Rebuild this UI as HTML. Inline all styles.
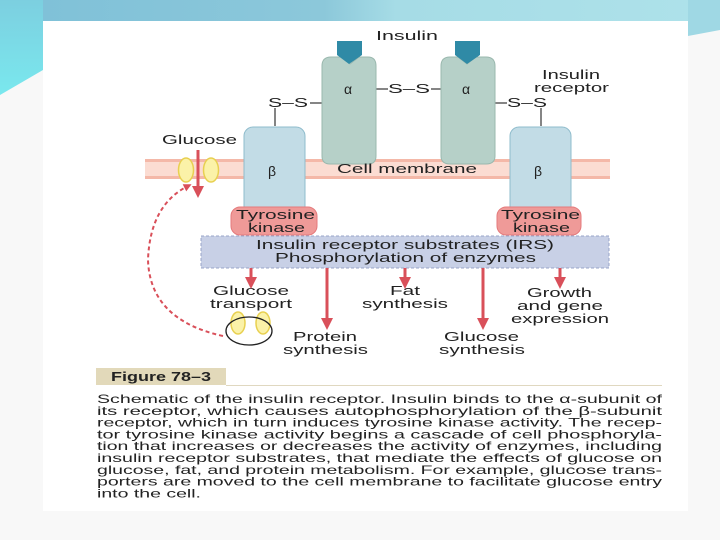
<!DOCTYPE html>
<html><head><meta charset="utf-8"><style>
html,body{margin:0;padding:0;background:#fff;}
svg{display:block}
text{font-family:"Liberation Sans",sans-serif;fill:#222;}
</style></head><body>
<svg width="720" height="540" viewBox="0 0 720 540" xmlns="http://www.w3.org/2000/svg">
<defs>
<linearGradient id="tb" x1="0" x2="1" y1="0" y2="0">
<stop offset="0" stop-color="#7ec0d8"/><stop offset="0.45" stop-color="#8cc8da"/><stop offset="0.55" stop-color="#a6dce6"/><stop offset="1" stop-color="#aee2ea"/></linearGradient>
<linearGradient id="lb" x1="0" x2="0" y1="0" y2="1">
<stop offset="0" stop-color="#7ccfe0"/><stop offset="1" stop-color="#7ae8ee"/></linearGradient>
<marker id="ah" viewBox="0 0 10 10" refX="5" refY="5" markerWidth="4" markerHeight="4" orient="auto"><path d="M0,0 L10,5 L0,10 z" fill="#d9505a"/></marker>
</defs>
<rect width="720" height="540" fill="#f8f8f8"/>
<rect x="0" y="0" width="720" height="22" fill="url(#tb)"/>
<polygon points="0,0 43,0 43,70 0,95" fill="url(#lb)"/>
<polygon points="688,0 720,0 720,30 688,36" fill="#9fd8e4"/>
<rect x="43" y="21" width="645" height="490" fill="#fff"/>

<rect x="145" y="159" width="465" height="20" fill="#f4b8a8"/>
<rect x="145" y="162" width="465" height="14" fill="#fbdcd2"/>

<g stroke="#333" stroke-width="1.2">
<line x1="275" y1="108" x2="275" y2="126"/>
<line x1="310" y1="103" x2="322" y2="103"/>
<line x1="376" y1="89" x2="388" y2="89"/>
<line x1="431" y1="89" x2="441" y2="89"/>
<line x1="495" y1="103" x2="507" y2="103"/>
<line x1="541" y1="108" x2="541" y2="126"/>
</g>

<path d="M322,66 Q322,57 331,57 L341,57 L350,64 L359,57 L368,57 Q376,57 376,66 L376,156 Q376,164 368,164 L330,164 Q322,164 322,156 Z" fill="#b6d0c8" stroke="#9ab8ae"/>
<path d="M441,66 Q441,57 450,57 L458,57 L467,64 L476,57 L486,57 Q495,57 495,66 L495,156 Q495,164 486,164 L450,164 Q441,164 441,156 Z" fill="#b6d0c8" stroke="#9ab8ae"/>
<polygon points="337,41 362,41 362,55 349,64 337,55" fill="#2f8aa6"/>
<polygon points="455,41 480,41 480,55 467,64 455,55" fill="#2f8aa6"/>
<text x="344" y="94" font-size="14">α</text>
<text x="462" y="94" font-size="14">α</text>

<rect x="244" y="127" width="61" height="98" rx="9" fill="#c2dce6" stroke="#8fbccc"/>
<rect x="510" y="127" width="61" height="98" rx="9" fill="#c2dce6" stroke="#8fbccc"/>
<text x="268" y="176" font-size="14">β</text>
<text x="534" y="176" font-size="14">β</text>

<rect x="231" y="207" width="86" height="28" rx="9" fill="#ef9a98" stroke="#e47a7c"/>
<rect x="497" y="207" width="84" height="28" rx="9" fill="#ef9a98" stroke="#e47a7c"/>

<rect x="201" y="236" width="408" height="32" fill="#c8d0e6" stroke="#98a4c8" stroke-dasharray="3,2"/>

<g font-size="12.5">
<text x="268" y="107" textLength="40" lengthAdjust="spacingAndGlyphs">S–S</text>
<text x="388" y="93" textLength="42" lengthAdjust="spacingAndGlyphs">S–S</text>
<text x="507" y="107" textLength="40" lengthAdjust="spacingAndGlyphs">S–S</text>
<text x="337" y="173" textLength="140" lengthAdjust="spacingAndGlyphs">Cell membrane</text>
<text x="236" y="219" textLength="79" lengthAdjust="spacingAndGlyphs">Tyrosine</text>
<text x="248" y="232" textLength="57" lengthAdjust="spacingAndGlyphs">kinase</text>
<text x="501" y="219" textLength="79" lengthAdjust="spacingAndGlyphs">Tyrosine</text>
<text x="513" y="232" textLength="57" lengthAdjust="spacingAndGlyphs">kinase</text>
<text x="256" y="249" textLength="298" lengthAdjust="spacingAndGlyphs">Insulin receptor substrates (IRS)</text>
<text x="275" y="262" textLength="261" lengthAdjust="spacingAndGlyphs">Phosphorylation of enzymes</text>
<text x="376" y="40" textLength="62" lengthAdjust="spacingAndGlyphs">Insulin</text>
<text x="542" y="79" textLength="58" lengthAdjust="spacingAndGlyphs">Insulin</text>
<text x="534" y="92" textLength="75" lengthAdjust="spacingAndGlyphs">receptor</text>
<text x="162" y="144" textLength="75" lengthAdjust="spacingAndGlyphs">Glucose</text>
<text x="213" y="295" textLength="76" lengthAdjust="spacingAndGlyphs">Glucose</text>
<text x="210" y="308" textLength="82" lengthAdjust="spacingAndGlyphs">transport</text>
<text x="390" y="295" textLength="30" lengthAdjust="spacingAndGlyphs">Fat</text>
<text x="362" y="308" textLength="86" lengthAdjust="spacingAndGlyphs">synthesis</text>
<text x="527" y="297" textLength="65" lengthAdjust="spacingAndGlyphs">Growth</text>
<text x="517" y="310" textLength="86" lengthAdjust="spacingAndGlyphs">and gene</text>
<text x="511" y="323" textLength="98" lengthAdjust="spacingAndGlyphs">expression</text>
<text x="293" y="341" textLength="64" lengthAdjust="spacingAndGlyphs">Protein</text>
<text x="283" y="354" textLength="85" lengthAdjust="spacingAndGlyphs">synthesis</text>
<text x="444" y="341" textLength="75" lengthAdjust="spacingAndGlyphs">Glucose</text>
<text x="439" y="354" textLength="86" lengthAdjust="spacingAndGlyphs">synthesis</text>
</g>

<g stroke="#d9505a" stroke-width="3" marker-end="url(#ah)">
<line x1="198" y1="150" x2="198" y2="192"/>
<line x1="251" y1="268" x2="251" y2="283"/>
<line x1="327" y1="268" x2="327" y2="324"/>
<line x1="405" y1="268" x2="405" y2="283"/>
<line x1="483" y1="268" x2="483" y2="324"/>
<line x1="560" y1="268" x2="560" y2="283"/>
</g>
<path d="M223,336 Q150,320 148,260 Q150,205 188,186" fill="none" stroke="#d9505a" stroke-width="2" stroke-dasharray="4,3" marker-end="url(#ah)"/>

<ellipse cx="186" cy="170" rx="7.5" ry="12" fill="#fbf2a8" stroke="#e8d050" stroke-width="1.5"/>
<ellipse cx="211" cy="170" rx="7.5" ry="12" fill="#fbf2a8" stroke="#e8d050" stroke-width="1.5"/>
<ellipse cx="238" cy="323" rx="7" ry="11" fill="#fbf2a8" stroke="#e8d050" stroke-width="1.5"/>
<ellipse cx="263" cy="323" rx="7" ry="11" fill="#fbf2a8" stroke="#e8d050" stroke-width="1.5"/>
<ellipse cx="249" cy="331" rx="23" ry="14" fill="none" stroke="#222" stroke-width="1.3"/>

<rect x="96" y="368" width="130" height="17" fill="#e2d9ba"/>
<line x1="226" y1="385.5" x2="662" y2="385.5" stroke="#e0d8c0"/>
<text x="111" y="381" font-size="13" font-weight="bold" textLength="100" lengthAdjust="spacingAndGlyphs">Figure 78–3</text>
<g font-size="11.8">
<text x="97" y="403" textLength="565" lengthAdjust="spacingAndGlyphs">Schematic of the insulin receptor. Insulin binds to the α-subunit of</text>
<text x="97" y="414.8" textLength="565" lengthAdjust="spacingAndGlyphs">its receptor, which causes autophosphorylation of the β-subunit</text>
<text x="97" y="426.6" textLength="565" lengthAdjust="spacingAndGlyphs">receptor, which in turn induces tyrosine kinase activity. The recep-</text>
<text x="97" y="438.4" textLength="565" lengthAdjust="spacingAndGlyphs">tor tyrosine kinase activity begins a cascade of cell phosphoryla-</text>
<text x="97" y="450.2" textLength="565" lengthAdjust="spacingAndGlyphs">tion that increases or decreases the activity of enzymes, including</text>
<text x="97" y="462" textLength="565" lengthAdjust="spacingAndGlyphs">insulin receptor substrates, that mediate the effects of glucose on</text>
<text x="97" y="473.8" textLength="565" lengthAdjust="spacingAndGlyphs">glucose, fat, and protein metabolism. For example, glucose trans-</text>
<text x="97" y="485.6" textLength="565" lengthAdjust="spacingAndGlyphs">porters are moved to the cell membrane to facilitate glucose entry</text>
<text x="97" y="497.4" textLength="104" lengthAdjust="spacingAndGlyphs">into the cell.</text>
</g>
</svg>
</body></html>
